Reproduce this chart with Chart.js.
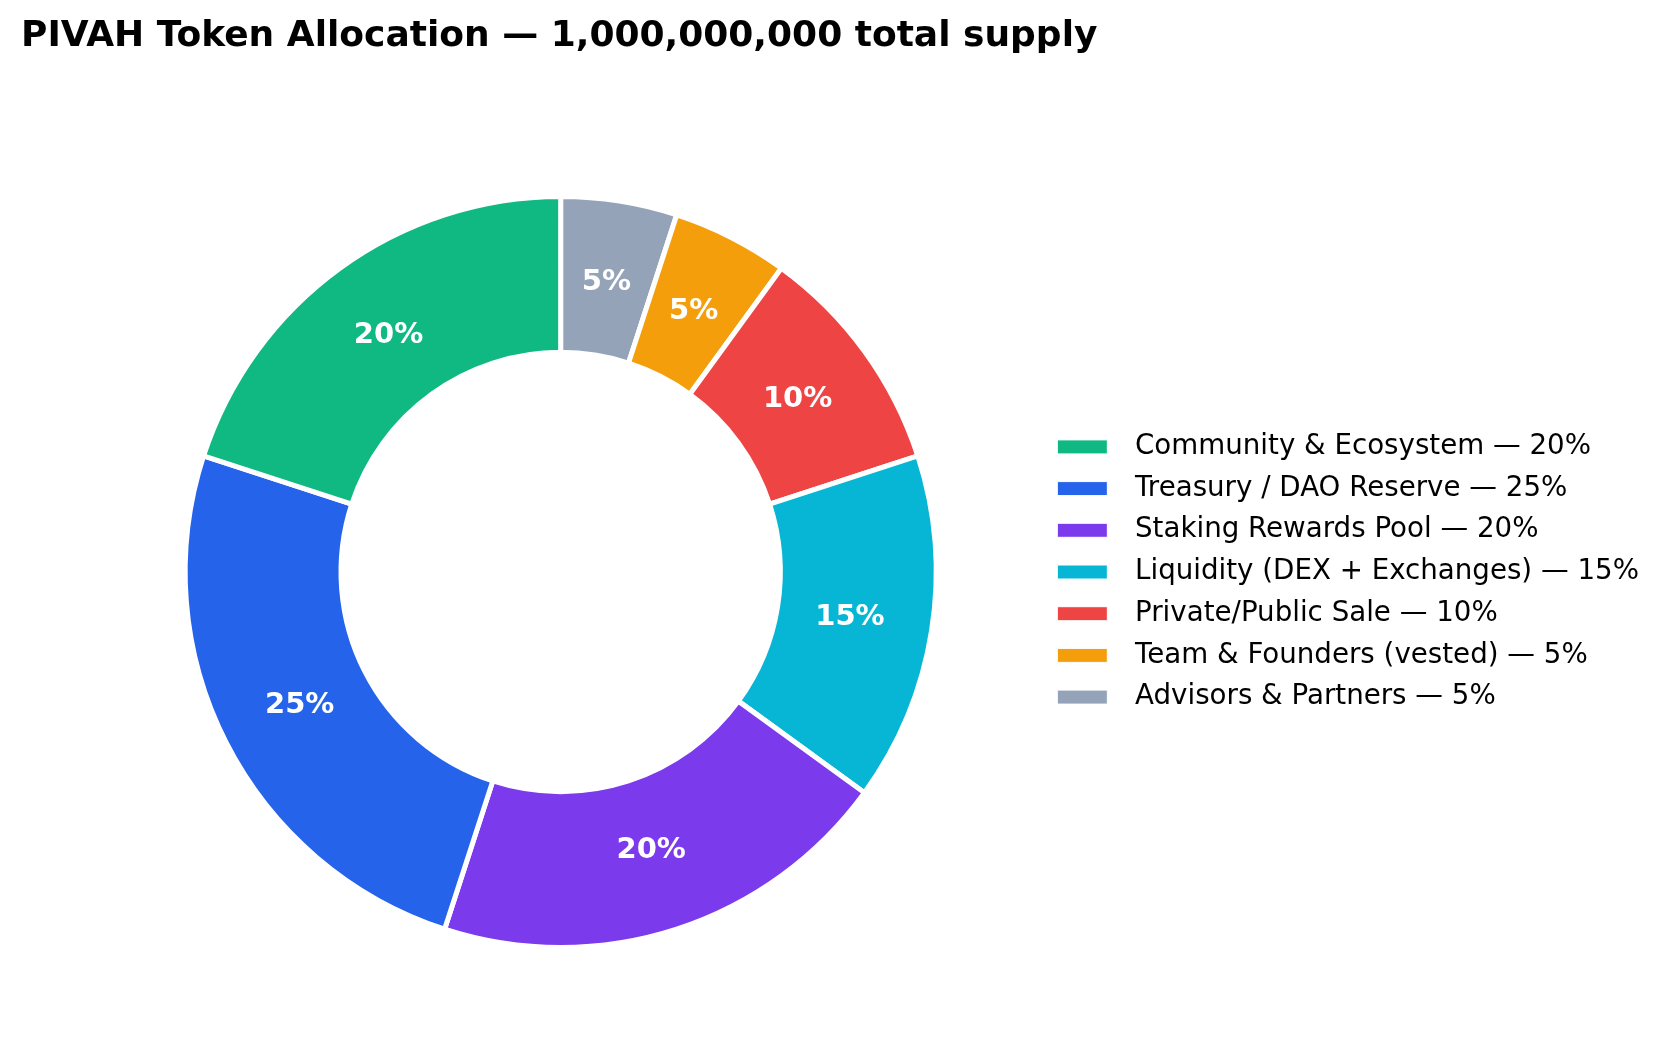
<!DOCTYPE html>
<html>
<head>
<meta charset="utf-8">
<script src="https://cdn.jsdelivr.net/npm/chart.js@4.4.1/dist/chart.umd.min.js"></script>
<style>
  html, body { margin: 0; padding: 0; background: #fff; }
  #wrap { position: relative; width: 1669px; height: 1062px; }
  #title {
    position: absolute; left: 21px; top: 16px; margin: 0;
    font: bold 36px "DejaVu Sans", sans-serif; line-height: 36px;
    color: #000; white-space: nowrap;
  }
</style>
</head>
<body>
<div id="wrap">
  <h1 id="title">PIVAH Token Allocation — 1,000,000,000 total supply</h1>
  <canvas id="tokenChart" width="1669" height="1062"></canvas>
</div>
<script>
const categories = [
  "Community & Ecosystem",
  "Treasury / DAO Reserve",
  "Staking Rewards Pool",
  "Liquidity (DEX + Exchanges)",
  "Private/Public Sale",
  "Team & Founders (vested)",
  "Advisors & Partners"
];
const shares = [20, 25, 20, 15, 10, 5, 5];
const sliceColors = ["#10b981", "#2563eb", "#7c3aed", "#06b6d4", "#ef4444", "#f59e0b", "#94a3b8"];

// matplotlib draws counter-clockwise from the top, Chart.js clockwise,
// so the slices go in reversed and the legend is flipped back
const legendTexts = categories.map((c, i) => c + " — " + shares[i] + "%");
const rev = (a) => a.slice().reverse();

Chart.defaults.font.family = "'DejaVu Sans', sans-serif";
Chart.defaults.color = "#000";

// white % text inside each slice, at 78% of the outer radius
const pctLabels = {
  id: "pctLabels",
  afterDatasetsDraw(chart) {
    const ctx = chart.ctx;
    const meta = chart.getDatasetMeta(0);
    const vals = chart.data.datasets[0].data;
    ctx.save();
    ctx.fillStyle = "#fff";
    ctx.font = "bold 29px 'DejaVu Sans', sans-serif";
    ctx.textAlign = "center";
    ctx.textBaseline = "middle";
    meta.data.forEach((arc, i) => {
      const {x, y, startAngle, endAngle, outerRadius} = arc.getProps(["x", "y", "startAngle", "endAngle", "outerRadius"]);
      const mid = (startAngle + endAngle) / 2;
      const r = outerRadius * 0.78;
      ctx.fillText(vals[i] + "%", x + Math.cos(mid) * r, y + Math.sin(mid) * r);
    });
    ctx.restore();
  }
};

new Chart("tokenChart", {
  type: "doughnut",
  data: {
    labels: rev(legendTexts),
    datasets: [{
      data: rev(shares),
      backgroundColor: rev(sliceColors),
      borderColor: "#ffffff",
      borderWidth: 5
    }]
  },
  options: {
    responsive: false,
    animation: false,
    events: [],
    devicePixelRatio: 1,
    cutout: "58.5%",
    layout: {
      padding: { left: 78, right: 20, top: 194, bottom: 112 }
    },
    plugins: {
      tooltip: { enabled: false },
      legend: {
        position: "right",
        reverse: true,
        labels: {
          boxWidth: 50,
          boxHeight: 14,
          padding: 14,
          font: { size: 27.7 },
          generateLabels(chart) {
            const base = Chart.overrides.doughnut.plugins.legend.labels.generateLabels(chart);
            return base.map(item => Object.assign(item, { text: "\u2002" + item.text, lineWidth: 1 }));
          }
        }
      }
    }
  },
  plugins: [pctLabels]
});
</script>
</body>
</html>
